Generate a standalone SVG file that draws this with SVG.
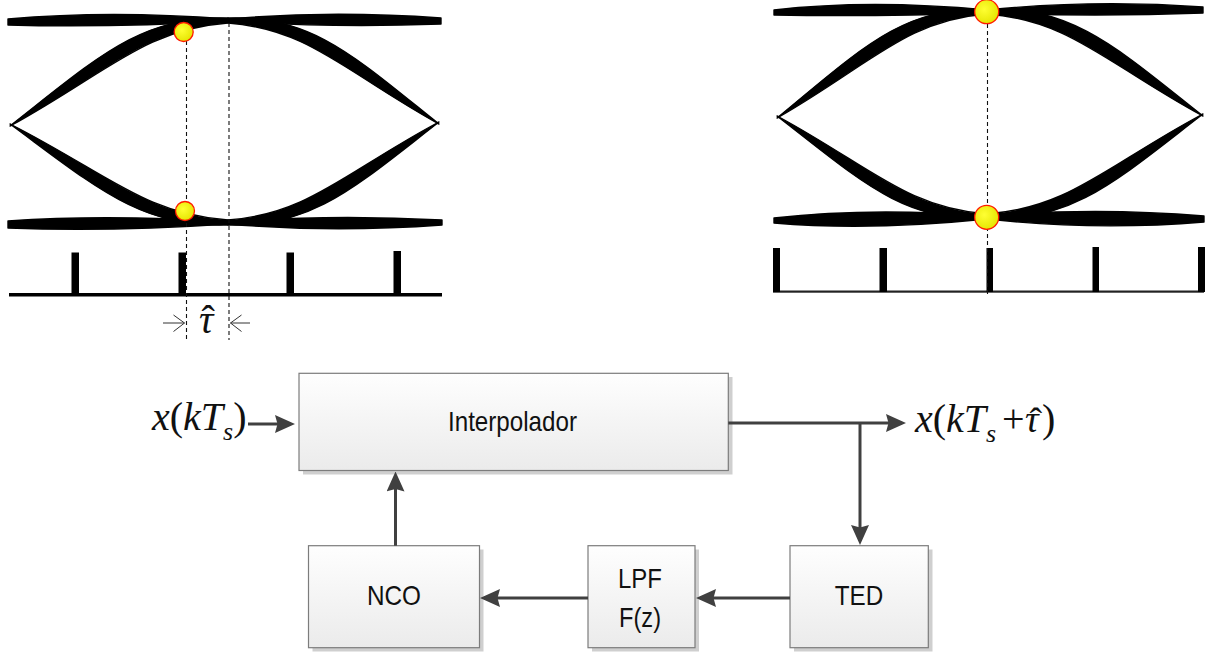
<svg xmlns="http://www.w3.org/2000/svg" width="1205" height="653" viewBox="0 0 1205 653">
  <defs>
    <linearGradient id="boxFill" x1="0" y1="0" x2="0" y2="1">
      <stop offset="0" stop-color="#fefefe"/>
      <stop offset="1" stop-color="#ebebeb"/>
    </linearGradient>
    <radialGradient id="dotFill" cx="0.4" cy="0.4" r="0.65">
      <stop offset="0" stop-color="#ffff33"/>
      <stop offset="1" stop-color="#e4e400"/>
    </radialGradient>
    <marker id="arrow" markerUnits="userSpaceOnUse" viewBox="0 0 20 18" markerWidth="20" markerHeight="18" refX="16" refY="9" orient="auto">
      <path d="M0,0 L20,9 L0,18 L2.5,9 Z" fill="#404040"/>
    </marker>
  </defs>
  <style>
    .ink { fill: #000; stroke: #000; stroke-width: 1.4; stroke-linejoin: round; }
    .tick { fill: #000; }
    .guide { fill: none; stroke: #111; stroke-width: 1.1; stroke-dasharray: 4 3; }
    .dot { fill: url(#dotFill); stroke: #ff1a00; stroke-width: 1.3; }
    .thin { fill: none; stroke: #333; stroke-width: 1; }
    .shadow { fill: #cfcfcf; }
    .box { fill: url(#boxFill); stroke: #7c7c7c; stroke-width: 1.2; }
    .label { font-family: "Liberation Sans Narrow", "Liberation Sans", Arial, sans-serif; font-size: 28.5px; fill: #111; text-anchor: middle; }
    .math { font-family: "Liberation Serif", "Times New Roman", serif; font-size: 40px; fill: #111; }
    .it { font-style: italic; }
    .wire { fill: none; stroke: #404040; stroke-width: 3; }
  </style>

  <rect width="1205" height="653" fill="#fff"/>

  <!-- Eye pattern with a timing offset (left) -->
  <g id="eye-offset">
    <path class="ink" d="M8,19 Q110,10 228,19 L228,21 Q110,28 8,25 Z"/>
    <path class="ink" d="M228,19 Q330,10 441,18 L441,24 Q330,28 228,21 Z"/>
    <path class="ink" d="M8,221 Q110,214 228,222 L228,224 Q110,232 8,228 Z"/>
    <path class="ink" d="M228,222 Q330,214 442,220 L442,225 Q330,233 228,224 Z"/>
    <path class="ink" d="M10,126 C97,58 141,15 228,18 L228,23 C145,29 108,72 12,125 Z"/>
    <path class="ink" d="M439,124 C355,57 312,15 228,18 L228,23 C308,29 344,71 437,123 Z"/>
    <path class="ink" d="M10,124 C97,188 141,228 228,225 L228,220 C145,214 108,174 12,125 Z"/>
    <path class="ink" d="M439,122 C355,187 312,228 228,225 L228,220 C308,214 344,173 437,123 Z"/>
    <rect class="tick" x="9" y="293" width="433" height="3.5"/>
    <rect class="tick" x="71.5" y="252.5" width="7.5" height="42"/>
    <rect class="tick" x="178.5" y="252.5" width="7.5" height="42"/>
    <rect class="tick" x="286.5" y="252.5" width="7.5" height="42"/>
    <rect class="tick" x="393.5" y="251" width="7.5" height="43.5"/>
    <line class="guide" x1="186.5" y1="41" x2="186.5" y2="340"/>
    <line class="guide" x1="229" y1="23" x2="229" y2="340"/>
    <circle class="dot" cx="183.7" cy="32" r="9.5"/>
    <circle class="dot" cx="185" cy="211" r="9.5"/>
    <path class="thin" d="M163,323 H184.5 M173.5,315 L184.5,323 L173.5,331.5"/>
    <path class="thin" d="M250,323 H230.5 M241.5,315 L230.5,323 L241.5,331.5"/>
    <text class="math" x="199" y="333" font-size="36"><tspan class="it">τ</tspan><tspan x="201.5">ˆ</tspan></text>
  </g>

  <!-- Eye pattern sampled at the optimum (right) -->
  <g id="eye-aligned">
    <path class="ink" d="M774,10 Q870,-1 987,10 L987,13 Q870,17 774,15 Z"/>
    <path class="ink" d="M987,10 Q1095,-1 1203,7 L1203,13 Q1095,17 987,13 Z"/>
    <path class="ink" d="M774,218 Q870,207 987,216 L987,219 Q870,231 774,223 Z"/>
    <path class="ink" d="M987,216 Q1095,207 1204,216 L1204,222 Q1095,231 987,219 Z"/>
    <path class="ink" d="M777,118 C861,49 903,6 987,9 L987,14 C907,20 871,64 779,117 Z"/>
    <path class="ink" d="M1203,116 C1117,48 1073,6 987,9 L987,14 C1069,20 1106,63 1201,115 Z"/>
    <path class="ink" d="M777,116 C861,181 903,222 987,219 L987,214 C907,208 871,167 779,117 Z"/>
    <path class="ink" d="M1203,114 C1117,180 1073,222 987,219 L987,214 C1069,208 1106,166 1201,115 Z"/>
    <rect x="773" y="290.5" width="431" height="2.2" fill="#222"/>
    <rect class="tick" x="773" y="248" width="7" height="44"/>
    <rect class="tick" x="879.5" y="248" width="7.5" height="44"/>
    <rect class="tick" x="986.5" y="248" width="6.5" height="44"/>
    <rect class="tick" x="1092.5" y="247" width="6.5" height="45"/>
    <rect class="tick" x="1198" y="247" width="7" height="45"/>
    <line class="guide" x1="987.5" y1="24" x2="987.5" y2="297" stroke="#555"/>
    <circle class="dot" cx="986.7" cy="11.7" r="12"/>
    <circle class="dot" cx="986.7" cy="217.3" r="12"/>
  </g>

  <!-- Timing recovery loop -->
  <g id="node-interpolador">
    <rect class="shadow" x="303" y="377" width="429.5" height="97.5"/>
    <rect class="box" x="299" y="373.3" width="429.3" height="97.2"/>
    <text class="label" x="512.5" y="431" font-size="27.5" textLength="129" lengthAdjust="spacingAndGlyphs">Interpolador</text>
  </g>
  <g id="node-nco">
    <rect class="shadow" x="312.5" y="549.5" width="171" height="102"/>
    <rect class="box" x="308.5" y="545.7" width="171" height="102"/>
    <text class="label" x="394" y="605" textLength="54" lengthAdjust="spacingAndGlyphs">NCO</text>
  </g>
  <g id="node-lpf">
    <rect class="shadow" x="592" y="549.5" width="107" height="102"/>
    <rect class="box" x="588" y="545.7" width="107" height="102"/>
    <text class="label" x="640" y="587.7" textLength="44" lengthAdjust="spacingAndGlyphs">LPF</text>
    <text class="label" x="640" y="626.5" textLength="42" lengthAdjust="spacingAndGlyphs">F(z)</text>
  </g>
  <g id="node-ted">
    <rect class="shadow" x="794" y="549.5" width="138.5" height="102"/>
    <rect class="box" x="790" y="545.7" width="138.3" height="102"/>
    <text class="label" x="859" y="605" textLength="48.5" lengthAdjust="spacingAndGlyphs">TED</text>
  </g>

  <g id="connectors">
    <path class="wire" d="M248,424 H291" marker-end="url(#arrow)"/>
    <path class="wire" d="M728.3,423 H902" marker-end="url(#arrow)"/>
    <path class="wire" d="M860,423 V541" marker-end="url(#arrow)"/>
    <path class="wire" d="M790,598 H700" marker-end="url(#arrow)"/>
    <path class="wire" d="M588,598 H484" marker-end="url(#arrow)"/>
    <path class="wire" d="M395.5,545.7 V475.5" marker-end="url(#arrow)"/>
  </g>

  <!-- Signal labels -->
  <g id="signal-labels">
    <text class="math" x="152" y="430"><tspan class="it">x</tspan>(<tspan class="it">kT</tspan><tspan class="it" font-size="26" dy="10">s</tspan><tspan dy="-10">)</tspan></text>
    <text class="math" x="915" y="431.7"><tspan class="it">x</tspan>(<tspan class="it">kT</tspan><tspan class="it" font-size="26" dy="10">s</tspan><tspan x="1002" dy="-10">+</tspan><tspan class="it" x="1025" font-size="38">τ</tspan><tspan x="1029.5" y="434" font-size="38">ˆ</tspan><tspan x="1042" y="431.7">)</tspan></text>
  </g>
</svg>
